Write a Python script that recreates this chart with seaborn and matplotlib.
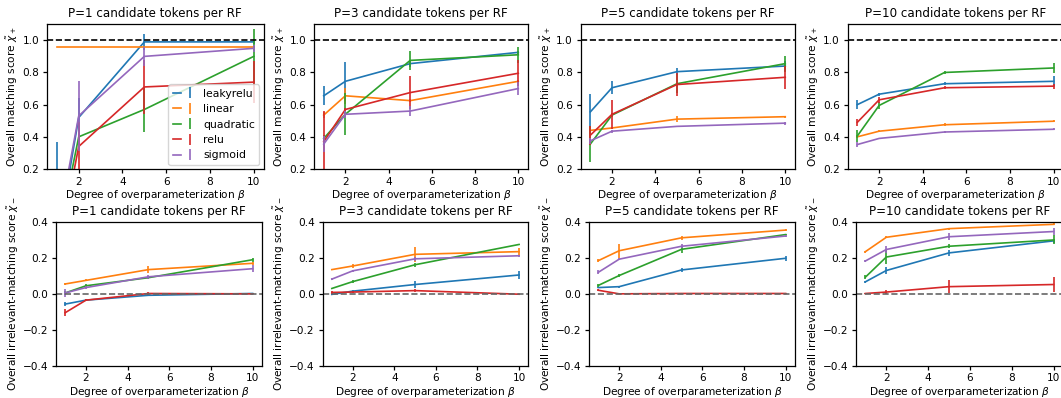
import numpy as np
import pandas as pd
import matplotlib
matplotlib.use("Agg")
import matplotlib.pyplot as plt
import seaborn as sns
from matplotlib.legend_handler import HandlerTuple

betas = [1, 2, 5, 10]
activations = ["leakyrelu", "linear", "quadratic", "relu", "sigmoid"]
p_values = [1, 3, 5, 10]
colors = ["#1f77b4", "#ff7f0e", "#2ca02c", "#d62728", "#9467bd"]

# Overall matching score (top row), rows = activations
pos_p1_mean = [[-0.28, 0.52, 0.99, 0.99],
               [0.96, 0.96, 0.96, 0.96],
               [-0.27, 0.40, 0.57, 0.90],
               [-0.36, 0.34, 0.71, 0.74],
               [-0.20, 0.53, 0.90, 0.95]]
pos_p1_err = [[0.65, 0.12, 0.05, 0.01],
              [0.00, 0.00, 0.00, 0.00],
              [0.10, 0.05, 0.14, 0.17],
              [0.10, 0.15, 0.17, 0.13],
              [0.10, 0.22, 0.06, 0.02]]
pos_p3_mean = [[0.655, 0.745, 0.855, 0.925],
               [0.535, 0.655, 0.625, 0.745],
               [0.39, 0.54, 0.875, 0.91],
               [0.37, 0.57, 0.675, 0.795],
               [0.355, 0.54, 0.56, 0.70]]
pos_p3_err = [[0.06, 0.12, 0.02, 0.01],
              [0.02, 0.05, 0.01, 0.01],
              [0.02, 0.13, 0.06, 0.05],
              [0.19, 0.01, 0.10, 0.08],
              [0.05, 0.02, 0.03, 0.04]]
pos_p5_mean = [[0.555, 0.705, 0.805, 0.84],
               [0.44, 0.455, 0.51, 0.525],
               [0.355, 0.535, 0.73, 0.855],
               [0.41, 0.54, 0.725, 0.77],
               [0.375, 0.435, 0.465, 0.485]]
pos_p5_err = [[0.11, 0.04, 0.02, 0.03],
              [0.02, 0.005, 0.02, 0.005],
              [0.11, 0.01, 0.06, 0.05],
              [0.06, 0.09, 0.07, 0.07],
              [0.02, 0.01, 0.005, 0.01]]
pos_p10_mean = [[0.60, 0.665, 0.73, 0.745],
                [0.40, 0.435, 0.475, 0.497],
                [0.405, 0.595, 0.80, 0.828],
                [0.49, 0.63, 0.705, 0.715],
                [0.352, 0.39, 0.43, 0.447]]
pos_p10_err = [[0.03, 0.01, 0.01, 0.03],
               [0.01, 0.005, 0.01, 0.005],
               [0.04, 0.02, 0.01, 0.03],
               [0.02, 0.02, 0.01, 0.015],
               [0.015, 0.005, 0.005, 0.005]]

# Overall irrelevant-matching score (bottom row)
neg_p1_mean = [[-0.057, -0.035, -0.008, 0.002],
               [0.055, 0.075, 0.135, 0.17],
               [0.005, 0.045, 0.09, 0.19],
               [-0.105, -0.035, 0.002, 0.0],
               [0.005, 0.035, 0.095, 0.14]]
neg_p1_err = [[0.01, 0.005, 0.005, 0.003],
              [0.005, 0.005, 0.02, 0.01],
              [0.01, 0.01, 0.01, 0.01],
              [0.02, 0.005, 0.01, 0.002],
              [0.02, 0.01, 0.01, 0.02]]
neg_p3_mean = [[-0.003, 0.015, 0.052, 0.105],
               [0.135, 0.155, 0.22, 0.235],
               [0.03, 0.068, 0.162, 0.275],
               [0.008, 0.01, 0.018, -0.002],
               [0.082, 0.128, 0.195, 0.212]]
neg_p3_err = [[0.005, 0.005, 0.02, 0.02],
              [0.005, 0.01, 0.04, 0.02],
              [0.005, 0.01, 0.01, 0.005],
              [0.01, 0.005, 0.01, 0.002],
              [0.005, 0.005, 0.01, 0.005]]
neg_p5_mean = [[0.035, 0.04, 0.133, 0.198],
               [0.185, 0.24, 0.312, 0.355],
               [0.047, 0.102, 0.248, 0.33],
               [0.02, 0.0, 0.002, 0.002],
               [0.12, 0.193, 0.265, 0.322]]
neg_p5_err = [[0.005, 0.005, 0.01, 0.015],
              [0.01, 0.04, 0.01, 0.005],
              [0.01, 0.01, 0.02, 0.005],
              [0.005, 0.002, 0.002, 0.002],
              [0.01, 0.005, 0.01, 0.005]]
neg_p10_mean = [[0.067, 0.13, 0.228, 0.295],
                [0.235, 0.315, 0.363, 0.387],
                [0.093, 0.205, 0.265, 0.30],
                [0.002, 0.01, 0.04, 0.052],
                [0.183, 0.247, 0.318, 0.347]]
neg_p10_err = [[0.005, 0.02, 0.015, 0.01],
               [0.005, 0.005, 0.005, 0.005],
               [0.01, 0.04, 0.01, 0.025],
               [0.002, 0.01, 0.035, 0.04],
               [0.005, 0.02, 0.02, 0.02]]

pos_means = [pos_p1_mean, pos_p3_mean, pos_p5_mean, pos_p10_mean]
pos_errs = [pos_p1_err, pos_p3_err, pos_p5_err, pos_p10_err]
neg_means = [neg_p1_mean, neg_p3_mean, neg_p5_mean, neg_p10_mean]
neg_errs = [neg_p1_err, neg_p3_err, neg_p5_err, neg_p10_err]

plt.rcParams["font.family"] = ["DejaVu Sans"]
plt.rcParams["font.size"] = 7.6
plt.rcParams["axes.linewidth"] = 0.9
plt.rcParams["xtick.major.size"] = 3
plt.rcParams["ytick.major.size"] = 3
plt.rcParams["xtick.major.width"] = 0.9
plt.rcParams["ytick.major.width"] = 0.9
plt.rcParams["xtick.major.pad"] = 2.5
plt.rcParams["ytick.major.pad"] = 2.5

W, H = 1061, 398
fig = plt.figure(figsize=(W / 100, H / 100), dpi=100)

# axes boxes in pixels: (left, right) per column, (top, bottom) per row
top_cols = [(47, 263.6), (314, 528), (580.6, 795), (847.5, 1063.5)]
bot_cols = [(55.8, 262), (322.5, 528.4), (589, 795), (856, 1063)]
rows = [(24.2, 169.0), (222.0, 365.7)]
LW = 1.2


def draw_panel(ax, means, errs, legend=False):
    handles = []
    for k, act in enumerate(activations):
        df = pd.DataFrame({"beta": betas, "score": means[k]})
        sns.lineplot(data=df, x="beta", y="score", ax=ax, color=colors[k],
                     lw=LW, errorbar=None, legend=False)
        line = ax.get_lines()[-1]
        eb = ax.errorbar(betas, means[k], yerr=errs[k], fmt="none",
                         ecolor=colors[k], elinewidth=LW)
        handles.append((line, eb))
    if legend:
        ax.legend(handles, activations, loc="lower right",
                  handler_map={tuple: HandlerTuple(ndivide=None)},
                  fontsize=7.8, handlelength=2.0, borderaxespad=0.4)


for i, P in enumerate(p_values):
    for r, (top, bot) in enumerate(rows):
        left, right = (top_cols if r == 0 else bot_cols)[i]
        ax = fig.add_axes([left / W, 1 - bot / H, (right - left) / W, (bot - top) / H])
        if r == 0:
            draw_panel(ax, pos_means[i], pos_errs[i], legend=(i == 0))
            ax.axhline(1.0, color="black", ls="--", lw=LW)
            ax.set_ylim(0.2, 1.1)
            ax.set_yticks([0.2, 0.4, 0.6, 0.8, 1.0])
            ax.set_ylabel(r"Overall matching score $\tilde{\chi}_+$", labelpad=1.5)
        else:
            draw_panel(ax, neg_means[i], neg_errs[i])
            ax.axhline(0.0, color="#666666", ls="--", lw=LW)
            ax.set_ylim(-0.4, 0.4)
            ax.set_yticks([-0.4, -0.2, 0.0, 0.2, 0.4])
            ax.set_ylabel(r"Overall irrelevant-matching score $\tilde{\chi}_-$", labelpad=1.5)
        ax.set_xlim(0.55, 10.45)
        ax.set_xticks([2, 4, 6, 8, 10])
        ax.set_xlabel(r"Degree of overparameterization $\beta$", labelpad=1)
        ax.set_title(f"P={P} candidate tokens per RF", fontsize=8.6, pad=5)

fig.savefig("out.png", dpi=100)
